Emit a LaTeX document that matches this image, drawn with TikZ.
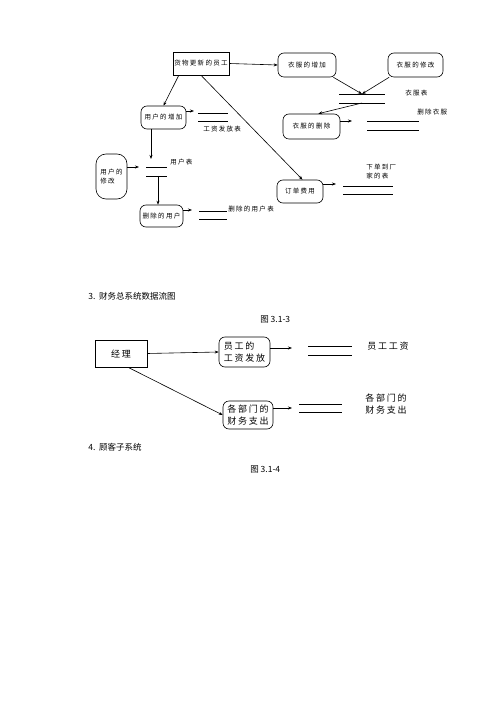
\documentclass[tikz,border=0pt]{standalone}
\usepackage{fontspec}
\newfontfamily\cjk[LetterSpace=20]{Noto Sans CJK SC}
\newfontfamily\cjkh{Noto Sans CJK SC}
\usetikzlibrary{arrows.meta}

\tikzset{
  proc/.style={draw, rounded corners=6pt, inner sep=0pt, align=center},
  ent/.style={draw, inner sep=0pt, align=center},
  store/.style={inner sep=0pt, outer sep=0pt,
    append after command={(\tikzlastnode.north west) edge (\tikzlastnode.north east)
      (\tikzlastnode.south west) edge (\tikzlastnode.south east)}},
  lbl/.style={anchor=west, inner sep=0pt, align=left},
  tp/.style={font=\fontsize{6.5}{9}\selectfont\cjk},
  bt/.style={font=\fontsize{9}{12}\selectfont\cjk},
  hd/.style={font=\fontsize{8.5}{10}\selectfont\cjkh},
  arr/.style={-{Stealth[length=4pt,width=3pt]}}
}

\begin{document}
\begin{tikzpicture}[x=1pt, y=-1pt, line width=0.6pt]
  \useasboundingbox (0,0) rectangle (500,708);

  % Processi, parte alta
  \node[ent, tp, minimum width=56, minimum height=23] (hwgx) at (201,63.5) {货物更新的员工};
  \node[proc, tp, minimum width=58, minimum height=24] (yfzj) at (307,65) {衣服的增加};
  \node[proc, tp, minimum width=55, minimum height=24] (yfxg) at (415.5,65) {衣服的修改};
  \node[proc, tp, minimum width=57, minimum height=25] (yfsc) at (311.5,126.5) {衣服的删除};
  \node[proc, tp, minimum width=45, minimum height=23] (yhzj) at (163.5,117.5) {用户的增加};
  \node[proc, tp, minimum width=46, minimum height=23] (ddfy) at (300,191.5) {订单费用};
  \node[proc, tp, rounded corners=10pt, align=left, minimum width=31, minimum height=45] (yhxg) at (111.5,176.5) {用户的\\修改};
  \node[proc, tp, minimum width=43, minimum height=22] (scyh) at (161.5,216) {删除的用户};

  % Archivi
  \node[store, minimum width=46, minimum height=9] (yfb) at (362,98.5) {};
  \node[store, minimum width=52, minimum height=9] (scyfb) at (393,125.5) {};
  \node[store, minimum width=30, minimum height=8] (gzffb) at (213,117) {};
  \node[store, minimum width=50, minimum height=8] (xdcjb) at (368,190) {};
  \node[store, minimum width=21, minimum height=9] (yhb) at (156.5,171.5) {};
  \node[store, minimum width=28, minimum height=8] (scyhb) at (213,215) {};

  % Etichette archivi
  \node[lbl, tp] (t_yfb) at (405,93) {衣服表};
  \node[lbl, tp] (t_scyfb) at (417,112) {删除衣服};
  \node[lbl, tp] (t_gzffb) at (203,129) {工资发放表};
  \node[lbl, tp] (t_xdcjb) at (366,171.5) {下单到厂\\家的表};
  \node[lbl, tp] (t_yhb) at (170,162) {用户表};
  \node[lbl, tp] (t_scyhb) at (228,209.5) {删除的用户表};

  % Punti liberi
  \coordinate (e_yfsc) at (352,121);
  \coordinate (e_yhzj) at (194,111);
  \coordinate (e_yhb) at (151,159);
  \coordinate (e_yhxg) at (139,167);
  \coordinate (e_scyh) at (192,210);
  \coordinate (e_ddfy) at (336,184);

  % Frecce
  \draw[arr] (hwgx.east) -- (yfzj.west);
  \draw[arr] (yfzj.-25) -- (yfb.north);
  \draw[arr] (yfxg.205) -- (yfb.north);
  \draw[arr] (yfb.south) -- (yfsc.62);
  \draw[arr] (yfsc.east |- e_yfsc) -- (e_yfsc);
  \draw[arr] (hwgx.208) -- (yhzj.north);
  \draw[arr] (hwgx.south) -- (ddfy.78);
  \draw[arr] (yhzj.east |- e_yhzj) -- (e_yhzj);
  \draw[arr] (yhzj.south -| e_yhb) -- (e_yhb);
  \draw[arr] (yhxg.east |- e_yhxg) -- (e_yhxg);
  \draw[arr] ([xshift=1.5pt]yhb.south) -- ([xshift=1.5pt]yhb.south |- scyh.north);
  \draw[arr] (scyh.east |- e_scyh) -- (e_scyh);
  \draw[arr] (ddfy.east |- e_ddfy) -- (e_ddfy);

  % Titoli
  \node[lbl, hd] (h3) at (88,296) {3.\ \ 财务总系统数据流图};
  \node[lbl, hd] (f3) at (260,319) {图 3.1-3};
  \node[lbl, hd] (h4) at (88,447) {4.\ \ 顾客子系统};
  \node[lbl, hd] (f4) at (250,469) {图 3.1-4};

  % Parte bassa
  \node[ent, bt, minimum width=52, minimum height=27] (jl) at (121,353.5) {经理};
  \node[proc, bt, align=left, minimum width=51, minimum height=30] (ygff) at (244.5,352) {员工的\\工资发放};
  \node[proc, bt, align=left, minimum width=50, minimum height=28] (bmzc) at (248,415) {各部门的\\财务支出};
  \node[store, minimum width=44, minimum height=9] (yggz) at (330,350.5) {};
  \node[store, minimum width=43, minimum height=8] (cwzc) at (320.5,408) {};
  \node[lbl, bt] (t_yggz) at (367,346) {员工工资};
  \node[lbl, bt] (t_cwzc) at (365,404.5) {各部门的\\财务支出};

  \coordinate (e_ygff) at (292,348);
  \coordinate (e_bmzc) at (292,408);

  \draw[arr] (jl.east) -- (ygff.west);
  \draw[arr] (jl.297) -- (bmzc.west);
  \draw[arr] (ygff.east |- e_ygff) -- (e_ygff);
  \draw[arr] (bmzc.east |- e_bmzc) -- (e_bmzc);

\end{tikzpicture}
\end{document}
